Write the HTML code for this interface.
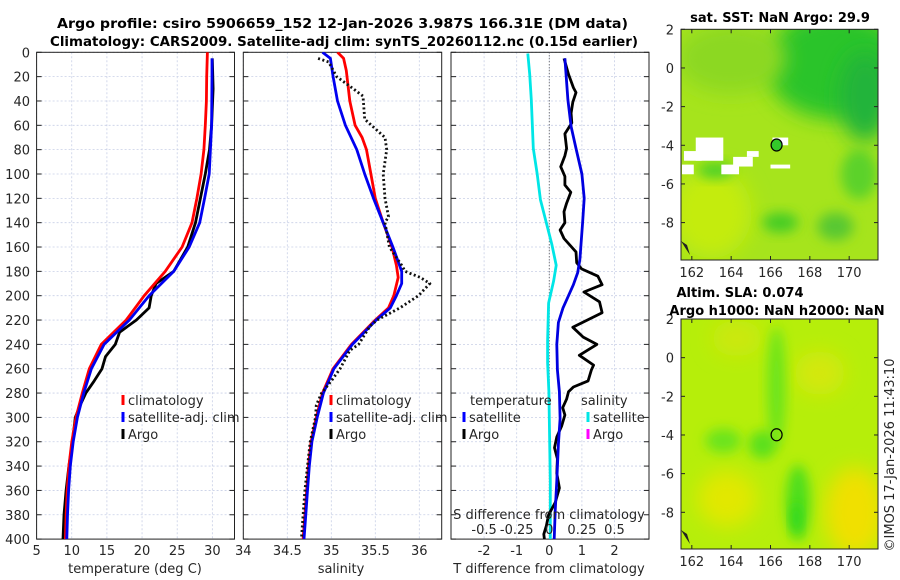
<!DOCTYPE html>
<html><head><meta charset="utf-8">
<style>
html,body{margin:0;padding:0;background:#fff;}
svg{display:block;font-family:"DejaVu Sans","Liberation Sans",sans-serif;}
</style></head>
<body>
<svg id="chart" width="900" height="580" viewBox="0 0 900 580" xmlns="http://www.w3.org/2000/svg">
<defs>
<filter id="blur6" x="-50%" y="-50%" width="200%" height="200%"><feGaussianBlur stdDeviation="6"/></filter>
<filter id="blur10" x="-50%" y="-50%" width="200%" height="200%"><feGaussianBlur stdDeviation="10"/></filter>
<clipPath id="clipMap1"><rect x="681" y="29" width="197" height="231"/></clipPath>
<clipPath id="clipMap2"><rect x="681" y="319" width="197" height="230"/></clipPath>
<clipPath id="clipP1"><rect x="37" y="52" width="198" height="487"/></clipPath>
<clipPath id="clipP2"><rect x="243" y="52" width="199" height="487"/></clipPath>
<clipPath id="clipP3"><rect x="451" y="52" width="198" height="487"/></clipPath>
</defs>
<text x="57" y="28" textLength="571" lengthAdjust="spacingAndGlyphs" font-size="13" font-weight="bold" fill="#000">Argo profile: csiro 5906659_152 12-Jan-2026 3.987S 166.31E (DM data)</text>
<text x="50" y="46" textLength="588" lengthAdjust="spacingAndGlyphs" font-size="13" font-weight="bold" fill="#000">Climatology: CARS2009. Satellite-adj clim: synTS_20260112.nc (0.15d earlier)</text>
<g id="plots"></g>
<g id="maps"></g>
<text transform="translate(894,455) rotate(-90)" text-anchor="middle" font-size="13" fill="#262626">©IMOS 17-Jan-2026 11:43:10</text>
</svg>
<script>
// ---------- data ----------
const tempClimDepth = [0,20,40,60,80,100,120,140,160,180,200,220,240,260,280,300,320,340,360,380,400];
const tempClim      = [29.3,29.2,29.15,29.0,28.8,28.4,27.8,27.1,25.7,23.3,20.3,17.75,14.2,12.5,11.5,10.6,10.0,9.6,9.35,9.2,9.1];
const tempSatDepth  = [5,20,60,100,120,140,160,180,200,220,240,260,280,300,320,340,360,380,400];
const tempSat       = [29.95,29.95,29.9,29.55,28.9,28.2,26.7,24.5,21.0,18.2,14.6,12.8,11.7,10.8,10.2,9.8,9.55,9.4,9.3];
const tempArgoDepth = [5,30,60,80,100,120,140,160,180,190,200,210,220,230,240,250,260,270,280,290,300,320,340,360,380,400];
const tempArgo      = [30.0,30.1,29.9,29.6,29.0,28.3,27.6,26.5,24.5,22.0,21.3,21.0,19.2,16.8,16.2,14.8,14.3,13.2,12.0,11.2,10.5,10.1,9.6,9.2,8.9,8.75];

const salClimDepth = [0,5,15,40,60,70,80,100,120,140,160,175,185,200,210,220,240,260,280,300,320,340,360,380,400];
const salClim      = [35.07,35.14,35.17,35.21,35.27,35.35,35.40,35.45,35.50,35.59,35.69,35.74,35.76,35.71,35.65,35.50,35.23,35.02,34.90,34.83,34.77,34.74,34.72,34.70,34.68];
const salSatDepth  = [0,5,20,40,60,80,100,120,140,160,180,190,200,210,220,240,260,280,300,320,340,360,380,400];
const salSat       = [34.90,34.99,35.02,35.07,35.16,35.29,35.38,35.48,35.59,35.70,35.80,35.80,35.74,35.67,35.51,35.24,35.03,34.91,34.84,34.78,34.75,34.73,34.71,34.69];
const salArgoDepth = [5,8,20,30,36,55,70,80,100,120,135,140,160,175,180,185,190,200,210,220,225,240,245,260,270,280,290,300,320,340,360,380,400];
const salArgo      = [34.85,34.97,35.06,35.25,35.36,35.38,35.61,35.63,35.59,35.61,35.65,35.61,35.66,35.80,35.84,36.01,36.12,35.99,35.78,35.52,35.44,35.31,35.21,35.10,35.00,34.89,34.83,34.82,34.76,34.73,34.70,34.68,34.66];

const dTSatDepth = [5,39,61,79,100,120,140,159,170,181,191,200,210,222,240,261,279,301,322,352,377,400];
const dTSat      = [0.48,0.57,0.67,0.82,1.0,1.07,1.02,0.97,0.94,0.87,0.74,0.59,0.42,0.28,0.23,0.25,0.31,0.33,0.28,0.23,0.18,0.15];
const dTArgoDepth = [5,18,29,33,41,50,58,67,79,85,94,102,109,115,124,131,140,146,153,164,173,178,184,191,197,205,214,226,234,240,249,257,261,270,275,279,285,292,298,307,316,325,334,346,358,370,380,389,396,400];
const dTArgo      = [0.45,0.59,0.74,0.82,0.72,0.67,0.69,0.48,0.53,0.48,0.35,0.48,0.48,0.66,0.53,0.45,0.48,0.33,0.45,0.82,0.84,0.99,1.49,1.62,1.06,1.54,1.62,0.72,1.04,1.46,0.92,1.36,1.29,1.19,0.74,0.59,0.53,0.41,0.48,0.38,0.23,0.16,0.25,0.23,0.31,0.18,-0.02,-0.09,-0.17,-0.15];
const dSSatDepth = [1,18,39,79,100,121,140,158,175,188,206,237,255,279,322,352,400];
const dSSat      = [-0.165,-0.15,-0.138,-0.123,-0.093,-0.068,-0.023,0.02,0.053,0.033,-0.005,-0.013,-0.013,-0.003,0.003,0.008,0.008];

const depthTicks = [0,20,40,60,80,100,120,140,160,180,200,220,240,260,280,300,320,340,360,380,400];
const tTicks = [5,10,15,20,25,30];
const sTicks = [34,34.5,35,35.5,36];
const dTTicks = [-2,-1,0,1,2];
const dSTicks = [-0.5,-0.25,0,0.25,0.5];
const dSTickLabels = ["-0.5","-0.25","0","0.25","0.5"];
const lonTicks = [162,164,166,168,170];
const latTicks = [2,0,-2,-4,-6,-8];
const argoLon = 166.31, argoLat = -3.987;

// ---------- scales ----------
const NS = "http://www.w3.org/2000/svg";
const yTop = 52.3, yBot = 539.1;
function yD(d){ return yTop + d*(yBot-yTop)/400; }
function x1(t){ return 36.6 + (t-5)*7.03; }
function x2(s){ return 243.3 + (s-34)*88; }
function x3(dt){ return 549.3 + dt*32.6; }
function x3s(ds){ return 549.3 + ds*4*32.6; }
function lonX(l){ return 681 + (l-161.45)*19.67; }
function latY1(l){ return 29.3 + (2-l)*19.33; }
function latY2(l){ return 319 + (2-l)*19.33; }

function mk(tag, attrs, parent){
  const e = document.createElementNS(NS, tag);
  for (const k in attrs) e.setAttribute(k, attrs[k]);
  parent.appendChild(e);
  return e;
}
const plots = document.getElementById('plots');
const maps = document.getElementById('maps');

function panel(name, x0, x1p, xt, xs, xlabels){
  const g = mk('g', {}, plots);
  
  
  depthTicks.forEach(d=>{
    const l = mk('line',{x1:x0,x2:x1p,y1:yD(d),y2:yD(d),stroke:'#c8cfe6','stroke-width':0.8,'stroke-dasharray':'2,2'},g);
    
    
    mk('line',{x1:x0,x2:x0+5,y1:yD(d),y2:yD(d),stroke:'#222'},g);
    mk('line',{x1:x1p-5,x2:x1p,y1:yD(d),y2:yD(d),stroke:'#222'},g);
  });
  xt.forEach((v,i)=>{
    const X = xs(v);
    const l = mk('line',{x1:X,x2:X,y1:yTop,y2:yBot,stroke:'#c8cfe6','stroke-width':0.8,'stroke-dasharray':'2,2'},g);
    
    
    if (xlabels){
      const t = mk('text',{x:X,y:555,'text-anchor':'middle','font-size':13,fill:'#262626'},g);
      t.textContent = xlabels[i];
      
      
    }
  });
  const r = mk('rect',{x:x0,y:yTop,width:x1p-x0,height:yBot-yTop,fill:'none',stroke:'#222','stroke-width':1},g);
  
  
  return g;
}
function line(g, xs, vals, depths, color, w, dash, name, clip){
  const pts = vals.map((v,i)=>xs(v).toFixed(1)+','+yD(depths[i]).toFixed(1)).join(' ');
  const p = mk('polyline',{points:pts,fill:'none',stroke:color,'stroke-width':w,'stroke-linejoin':'round','clip-path':'url(#'+clip+')'},g);
  if (dash) p.setAttribute('stroke-dasharray',dash);
  
  
}
function txt(g, x, y, s, name, opts){
  const t = mk('text', Object.assign({x:x,y:y,'font-size':13,fill:'#262626'}, opts||{}), g);
  t.textContent = s;
  
  
  return t;
}
function legendEntry(g, x, y, color, label, name){
  const e = mk('g',{},g);
  
  
  mk('line',{x1:x,x2:x,y1:y-10,y2:y,stroke:color,'stroke-width':3},e);
  txt(e, x+5, y, label, name+'-label');
}

depthTicks.forEach(d=>{ txt(plots, 30, yD(d)+5, String(d), 'y-tick-label', {'text-anchor':'end'}); });

// Panel 1 temperature
const p1 = panel('temperature-panel', 36.6, 234.5, tTicks, x1, tTicks.map(String));
line(p1, x1, tempArgo, tempArgoDepth, '#000', 2.8, null, 'temp-argo-line', 'clipP1');
line(p1, x1, tempClim, tempClimDepth, '#f00', 2.8, null, 'temp-climatology-line', 'clipP1');
line(p1, x1, tempSat, tempSatDepth, '#0000f0', 2.8, null, 'temp-satellite-line', 'clipP1');
txt(p1, 135, 573, 'temperature (deg C)', 'x-axis-title-temperature', {'text-anchor':'middle'});
legendEntry(p1, 123, 405, '#f00', 'climatology', 'legend-climatology');
legendEntry(p1, 123, 422, '#00f', 'satellite-adj. clim', 'legend-satellite');
legendEntry(p1, 123, 439, '#000', 'Argo', 'legend-argo');

// Panel 2 salinity
const p2 = panel('salinity-panel', 243.3, 441.7, sTicks, x2, sTicks.map(String));
line(p2, x2, salClim, salClimDepth, '#f00', 2.8, null, 'sal-climatology-line', 'clipP2');
line(p2, x2, salSat, salSatDepth, '#0000f0', 2.8, null, 'sal-satellite-line', 'clipP2');
line(p2, x2, salArgo, salArgoDepth, '#111', 2.8, '2,2.5', 'sal-argo-line', 'clipP2');
txt(p2, 341, 573, 'salinity', 'x-axis-title-salinity', {'text-anchor':'middle'});
legendEntry(p2, 331, 405, '#f00', 'climatology', 'legend-sal-climatology');
legendEntry(p2, 331, 422, '#00f', 'satellite-adj. clim', 'legend-sal-satellite');
legendEntry(p2, 331, 439, '#000', 'Argo', 'legend-sal-argo');

// Panel 3 differences
const p3 = panel('difference-panel', 451, 649, dTTicks, x3, dTTicks.map(String));
const zl = mk('line',{x1:x3(0),x2:x3(0),y1:yTop,y2:yBot,stroke:'#555','stroke-width':1,'stroke-dasharray':'1,2'},p3);


line(p3, x3s, dSSat, dSSatDepth, '#00e6e6', 2.8, null, 'sal-diff-satellite-line', 'clipP3');
line(p3, x3, dTArgo, dTArgoDepth, '#000', 2.8, null, 'temp-diff-argo-line', 'clipP3');
line(p3, x3, dTSat, dTSatDepth, '#0000e0', 2.8, null, 'temp-diff-satellite-line', 'clipP3');
txt(p3, 549, 573, 'T difference from climatology', 'x-axis-title-tdiff', {'text-anchor':'middle'});
txt(p3, 549, 519, 'S difference from climatology', 's-axis-title', {'text-anchor':'middle'});
dSTicks.forEach((v,i)=>{ txt(p3, x3s(v), 534, dSTickLabels[i], 's-tick-label', {'text-anchor':'middle'}); });
txt(p3, 470, 405, 'temperature', 'legend-temperature-header');
txt(p3, 581, 405, 'salinity', 'legend-salinity-header');
legendEntry(p3, 464, 422, '#00f', 'satellite', 'legend-tdiff-satellite');
legendEntry(p3, 464, 439, '#000', 'Argo', 'legend-tdiff-argo');
legendEntry(p3, 588, 422, '#00e6e6', 'satellite', 'legend-sdiff-satellite');
legendEntry(p3, 588, 439, '#f0f', 'Argo', 'legend-sdiff-argo');

// ---------- maps ----------
function mapAxes(name, latY, yb){
  const g = mk('g',{},maps);
  
  
  latTicks.forEach(l=>{ txt(g, 674, latY(l)+5, String(l), 'map-lat-label', {'text-anchor':'end'}); });
  lonTicks.forEach(l=>{ txt(g, lonX(l), yb+17, String(l), 'map-lon-label', {'text-anchor':'middle'}); });
  return g;
}
function mapFrame(g, latY, yb){
  const top = latY(2);
  latTicks.forEach(l=>{
    mk('line',{x1:681,x2:685,y1:latY(l),y2:latY(l),stroke:'#222'},g);
    mk('line',{x1:874,x2:878,y1:latY(l),y2:latY(l),stroke:'#222'},g);
  });
  lonTicks.forEach(l=>{
    mk('line',{x1:lonX(l),x2:lonX(l),y1:top,y2:top+4,stroke:'#222'},g);
    mk('line',{x1:lonX(l),x2:lonX(l),y1:yb-4,y2:yb,stroke:'#222'},g);
  });
  const r = mk('rect',{x:681,y:top,width:197,height:yb-top,fill:'none',stroke:'#222'},g);
  
  
}

// Map 1: SST
const m1 = mapAxes('sst-map', latY1, 260);
txt(m1, 780, 22, 'sat. SST: NaN Argo: 29.9', 'sst-map-title', {'text-anchor':'middle','font-weight':'bold','font-size':13,fill:'#000'});
const m1b = mk('g',{'clip-path':'url(#clipMap1)'},m1);
mk('rect',{x:681,y:29,width:197,height:231,fill:'#a6e41c'},m1b);
mk('ellipse',{cx:lonX(169.3),cy:latY1(0.2),rx:70,ry:55,fill:'#2cc42a',filter:'url(#blur10)'},m1b);
mk('ellipse',{cx:lonX(170.8),cy:latY1(-1.5),rx:25,ry:45,fill:'#22b43a',filter:'url(#blur10)'},m1b);
mk('ellipse',{cx:lonX(164),cy:latY1(0.5),rx:55,ry:35,fill:'#8cd824',filter:'url(#blur10)'},m1b);
mk('ellipse',{cx:lonX(163),cy:latY1(-7.5),rx:40,ry:45,fill:'#c4ec10',filter:'url(#blur10)'},m1b);
mk('ellipse',{cx:lonX(166.5),cy:latY1(-8),rx:18,ry:10,fill:'#44cc28',filter:'url(#blur6)'},m1b);
mk('ellipse',{cx:lonX(169.3),cy:latY1(-8.2),rx:18,ry:14,fill:'#58c830',filter:'url(#blur6)'},m1b);
mk('ellipse',{cx:lonX(163.2),cy:latY1(-5.3),rx:18,ry:8,fill:'#4cd028',filter:'url(#blur6)'},m1b);
mk('ellipse',{cx:lonX(170.5),cy:latY1(-5.5),rx:18,ry:25,fill:'#5cd22a',filter:'url(#blur6)'},m1b);
[[161.6,-4.3,0.9,0.5],[162.2,-3.6,1.4,1.2],[161.5,-5.0,0.6,0.5],[163.5,-5.0,0.9,0.5],[164.1,-4.6,1.0,0.5],[164.8,-4.3,0.6,0.3],[166.0,-5.0,1.0,0.2],[166.1,-3.6,0.8,0.4]].forEach(p=>{
  const w = mk('rect',{x:lonX(p[0]),y:latY1(p[1]),width:p[2]*19.67,height:p[3]*19.33,fill:'#fff'},m1b);
  
  
});
const c1 = mk('ellipse',{cx:lonX(argoLon),cy:latY1(argoLat),rx:5.5,ry:6,fill:'#34c82a',stroke:'#000','stroke-width':1.2},m1);


mk('path',{d:'M681,241 l5,8 l4,6 l-3,-10 z',fill:'#222'},m1b);
mapFrame(m1, latY1, 260);

// Map 2: SLA
const m2 = mapAxes('sla-map', latY2, 549);
txt(m2, 740, 297, 'Altim. SLA: 0.074', 'sla-map-title', {'text-anchor':'middle','font-weight':'bold','font-size':13,fill:'#000'});
txt(m2, 777, 315, 'Argo h1000: NaN h2000: NaN', 'sla-map-subtitle', {'text-anchor':'middle','font-weight':'bold','font-size':13,fill:'#000'});
const m2b = mk('g',{'clip-path':'url(#clipMap2)'},m2);
mk('rect',{x:681,y:319,width:197,height:230,fill:'#b6ee0a'},m2b);
mk('ellipse',{cx:lonX(170.3),cy:latY2(-8),rx:30,ry:45,fill:'#f0e000',filter:'url(#blur10)'},m2b);
mk('ellipse',{cx:lonX(163.8),cy:latY2(-7.3),rx:30,ry:28,fill:'#e2e804',filter:'url(#blur10)'},m2b);
mk('ellipse',{cx:lonX(168.5),cy:latY2(-0.8),rx:25,ry:22,fill:'#d4e80a',filter:'url(#blur10)'},m2b);
mk('ellipse',{cx:lonX(164.3),cy:latY2(1.0),rx:25,ry:18,fill:'#cce80a',filter:'url(#blur10)'},m2b);
mk('ellipse',{cx:lonX(166.3),cy:latY2(-1.5),rx:9,ry:60,fill:'#6ae41e',filter:'url(#blur6)'},m2b);
mk('ellipse',{cx:lonX(165.6),cy:latY2(-4.5),rx:14,ry:14,fill:'#5ae01e',filter:'url(#blur6)'},m2b);
mk('ellipse',{cx:lonX(163.6),cy:latY2(-4.3),rx:18,ry:12,fill:'#6ae41e',filter:'url(#blur6)'},m2b);
mk('ellipse',{cx:lonX(167.4),cy:latY2(-7.5),rx:12,ry:38,fill:'#4ede1c',filter:'url(#blur6)'},m2b);
mk('ellipse',{cx:lonX(167.3),cy:latY2(-8.3),rx:5,ry:15,fill:'#2cd81a',filter:'url(#blur6)'},m2b);
const c2 = mk('ellipse',{cx:lonX(argoLon),cy:latY2(argoLat),rx:5.5,ry:6,fill:'none',stroke:'#000','stroke-width':1.2},m2);


mk('path',{d:'M681,530 l5,8 l4,6 l-3,-10 z',fill:'#222'},m2b);
mapFrame(m2, latY2, 549);
</script>
</body></html>
